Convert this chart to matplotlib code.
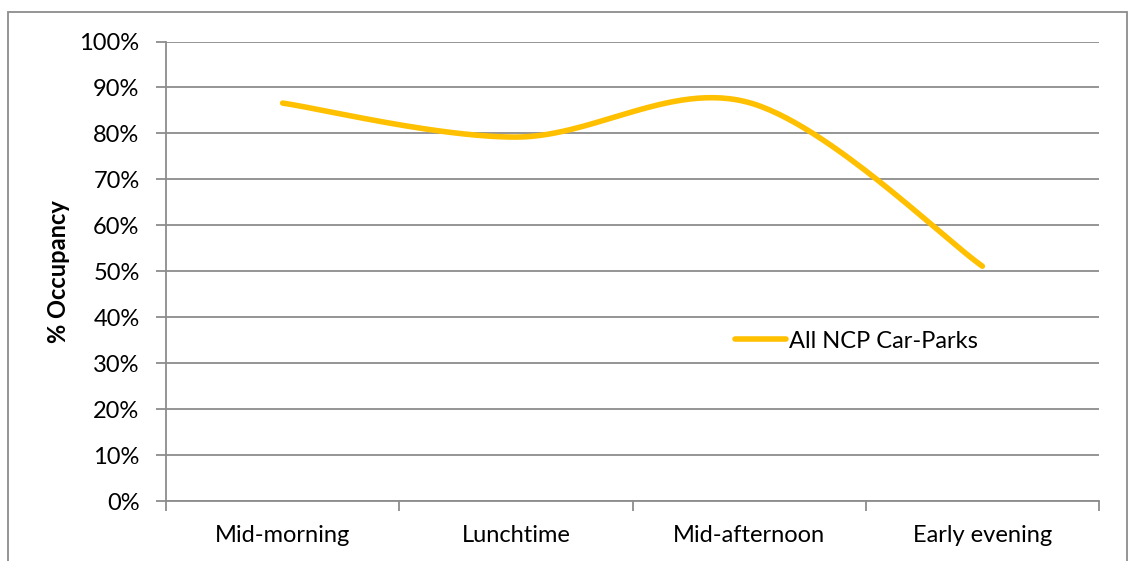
import numpy as np
import matplotlib
matplotlib.use("Agg")
import matplotlib.pyplot as plt
from matplotlib.patches import Rectangle
from matplotlib.lines import Line2D

plt.rcParams['font.family'] = ['Lato', 'DejaVu Sans']

categories = ["Mid-morning", "Lunchtime", "Mid-afternoon", "Early evening"]
occupancy = [86.6, 79.2, 86.7, 51.1]
y_ticks = list(range(0, 101, 10))
series_name = "All NCP Car-Parks"

LINE_COLOR = "#FFC000"
GRID_COLOR = "#8C8C8C"
FS = 17


def smooth_curve(xs, ys, n=60):
    """Cubic Bezier smoothing through every point (spreadsheet-style)."""
    pts = np.column_stack([xs, ys]).astype(float)
    out = []
    m = len(pts)
    for i in range(m - 1):
        p0 = pts[i]
        p3 = pts[i + 1]
        prev = pts[i - 1] if i > 0 else pts[i]
        nxt = pts[i + 2] if i + 2 < m else pts[i + 1]
        c1 = p0 + (p3 - prev) / 6.0
        c2 = p3 - (nxt - p0) / 6.0
        t = np.linspace(0, 1, n)[:, None]
        seg = ((1 - t) ** 3) * p0 + 3 * ((1 - t) ** 2) * t * c1 \
            + 3 * (1 - t) * t ** 2 * c2 + t ** 3 * p3
        out.append(seg if i == 0 else seg[1:])
    curve = np.vstack(out)
    return curve[:, 0], curve[:, 1]


fig = plt.figure(figsize=(11.28, 5.61), dpi=100)
W, H = 1128, 561
ax = fig.add_axes([166 / W, 1 - 501 / H, (1099 - 166) / W, (501 - 41.5) / H])

# outer chart-area frame
fig.patches.append(Rectangle((8 / W, -0.05), (1127 - 8) / W, 1 - 12 / H + 0.05,
                             transform=fig.transFigure, fill=False,
                             edgecolor=GRID_COLOR, linewidth=1.3))

x = np.arange(len(categories))
sx, sy = smooth_curve(x, occupancy)
ax.plot(sx, sy, color=LINE_COLOR, linewidth=4.0, solid_capstyle='round',
        solid_joinstyle='round', zorder=3)

ax.set_xlim(-0.5, len(categories) - 0.5)
ax.set_ylim(0, 100)

ax.set_yticks(y_ticks)
ax.set_yticklabels([f"{v}%" for v in y_ticks])
ax.yaxis.grid(True, color=GRID_COLOR, linewidth=1.3)
ax.set_axisbelow(True)

ax.set_xticks(x)
ax.set_xticklabels(categories)
ax.set_xticks(np.arange(-0.5, len(categories)), minor=True)
ax.tick_params(axis='x', which='major', length=0, pad=17, labelsize=FS)
ax.tick_params(axis='x', which='minor', length=7, width=1.3, color=GRID_COLOR)
ax.tick_params(axis='y', length=7, width=1.3, color=GRID_COLOR, pad=12, labelsize=FS)

for side in ('top', 'right'):
    ax.spines[side].set_visible(False)
for side in ('left', 'bottom'):
    ax.spines[side].set_color(GRID_COLOR)
    ax.spines[side].set_linewidth(1.3)

ax.set_ylabel("% Occupancy", fontsize=FS, fontweight='bold')
ax.yaxis.set_label_coords((70 - 166) / (1099 - 166), (501 - 272) / (501 - 41.5))

legend_handle = Line2D([], [], color=LINE_COLOR, linewidth=4.0, solid_capstyle='round')
ax.legend([legend_handle], [series_name], loc='center left',
          bbox_to_anchor=((735 - 166) / (1099 - 166), (501 - 341) / (501 - 41.5)),
          frameon=False, fontsize=FS, handlelength=2.15, handletextpad=0.15,
          borderaxespad=0, borderpad=0)

fig.savefig("out.png", dpi=100)
